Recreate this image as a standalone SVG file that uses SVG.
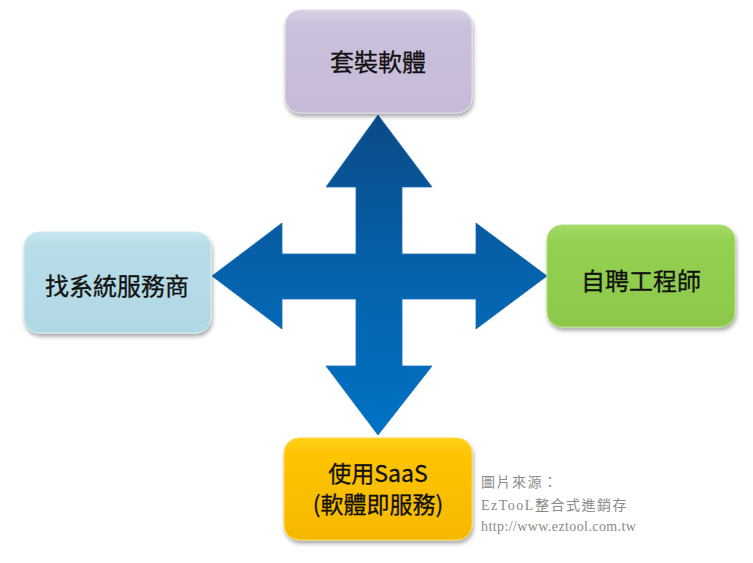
<svg xmlns="http://www.w3.org/2000/svg" width="753" height="563" viewBox="0 0 753 563">
<style>
.lbl{font-family:"Noto Sans CJK TC","Noto Sans",sans-serif;font-size:24px;font-weight:400;fill:#111;text-anchor:middle;stroke:#111;stroke-width:0.3}
.cr{font-family:"Liberation Serif","Noto Sans CJK TC",serif;font-size:14px;fill:#8a8a8a;letter-spacing:1.5px}
.box{filter:url(#sh);stroke-width:1}
</style>
<defs>
<filter id="sh" x="-10%" y="-10%" width="125%" height="130%">
<feGaussianBlur in="SourceAlpha" stdDeviation="2"/>
<feOffset dx="1" dy="3"/>
<feComponentTransfer><feFuncA type="linear" slope="0.35"/></feComponentTransfer>
<feMerge><feMergeNode/><feMergeNode in="SourceGraphic"/></feMerge>
</filter>
<linearGradient id="gTop" x1="0" y1="0" x2="0" y2="1"><stop offset="0" stop-color="#d9d0e5"/><stop offset="0.15" stop-color="#ccc1dc"/><stop offset="1" stop-color="#c6bad8"/></linearGradient>
<linearGradient id="gLeft" x1="0" y1="0" x2="0" y2="1"><stop offset="0" stop-color="#c6e6ee"/><stop offset="0.15" stop-color="#b7dde8"/><stop offset="1" stop-color="#b0d8e4"/></linearGradient>
<linearGradient id="gRight" x1="0" y1="0" x2="0" y2="1"><stop offset="0" stop-color="#a3da66"/><stop offset="0.15" stop-color="#94d152"/><stop offset="1" stop-color="#8cc84a"/></linearGradient>
<linearGradient id="gBot" x1="0" y1="0" x2="0" y2="1"><stop offset="0" stop-color="#ffd21a"/><stop offset="0.15" stop-color="#fec406"/><stop offset="1" stop-color="#f5b800"/></linearGradient>
<linearGradient id="gArrow" x1="0" y1="115" x2="0" y2="435" gradientUnits="userSpaceOnUse"><stop offset="0" stop-color="#0b4a86"/><stop offset="0.5" stop-color="#0562ac"/><stop offset="1" stop-color="#0072c4"/></linearGradient>
</defs>
<g id="connectors">
<path d="M378,115 L432,187 L402,187 L402,254 L476,254 L476,223 L547,276 L476,329 L476,299 L402,299 L402,366 L432,366 L378,435 L326,366 L356,366 L356,299 L282,299 L282,329 L212,276 L282,223 L282,254 L356,254 L356,187 L326,187 Z" fill="url(#gArrow)" stroke="#1b6cb8" stroke-width="0.8"/>
</g>
<g id="node-top">
<rect class="box" x="285" y="10" width="187" height="103" rx="15" fill="url(#gTop)" stroke="#e4deec"/>
<text class="lbl" x="378" y="71">套裝軟體</text>
</g>
<g id="node-left">
<rect class="box" x="24" y="232" width="187" height="101" rx="15" fill="url(#gLeft)" stroke="#d4ecf2"/>
<text class="lbl" x="117" y="295">找系統服務商</text>
</g>
<g id="node-right">
<rect class="box" x="547" y="225" width="188" height="102" rx="15" fill="url(#gRight)" stroke="#b2df80"/>
<text class="lbl" x="641" y="290">自聘工程師</text>
</g>
<g id="node-bottom">
<rect class="box" x="284" y="438" width="188" height="102" rx="15" fill="url(#gBot)" stroke="#ffdb55"/>
<text class="lbl" x="378" y="482" style="font-size:23px">使用SaaS</text>
<text class="lbl" x="378" y="513" style="font-size:23px">(軟體即服務)</text>
</g>
<g id="credit">
<text class="cr" x="481" y="487">圖片來源：</text>
<text class="cr" x="481" y="510">EzTooL整合式進銷存</text>
<text class="cr" x="481" y="531" style="letter-spacing:0.4px">http://www.eztool.com.tw</text>
</g>
</svg>
